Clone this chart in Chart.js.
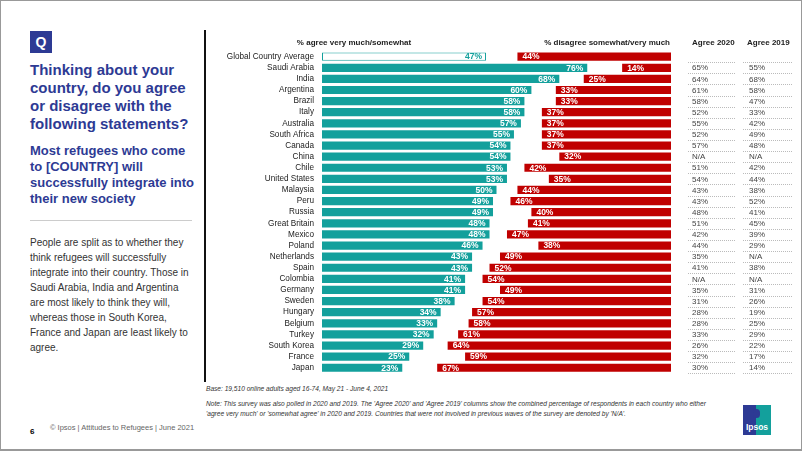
<!DOCTYPE html>
<html>
<head>
<meta charset="utf-8">
<script src="https://cdn.jsdelivr.net/npm/chart.js@4.4.1/dist/chart.umd.min.js"></script>
<style>
  html, body { margin: 0; padding: 0; background: #fff; }
  body { width: 802px; height: 451px; position: relative; overflow: hidden; font-family: "Liberation Sans", Arial, sans-serif; }
  .abs { position: absolute; white-space: nowrap; }
  #frame { left: 0; top: 0; width: 800px; height: 448px; border: 1px solid #999; border-bottom-width: 2px; }
  #qbox { left: 30px; top: 31px; width: 22px; height: 22px; background: #2d3a94; color: #fff; font-weight: bold; font-size: 14px; line-height: 22px; text-align: center; }
  #title { left: 30px; top: 61px; color: #2d3a94; font-weight: bold; font-size: 15px; line-height: 18px; }
  #subtitle { left: 30px; top: 143px; color: #2d3a94; font-weight: bold; font-size: 13px; line-height: 16px; }
  #rule { left: 30px; top: 220px; width: 162px; height: 1px; background: #ccc; }
  #body { left: 30px; top: 235px; color: #333; font-size: 10px; line-height: 15px; }
  #page { left: 30px; top: 427px; font-size: 8px; font-weight: bold; color: #000; }
  #copy { left: 50px; top: 423px; font-size: 7.5px; color: #666; }
  #vline { left: 204px; top: 30px; width: 2px; height: 352px; background: #111; }
  #base { left: 206px; top: 385px; font-size: 6.6px; font-style: italic; color: #333; }
  #note { left: 206px; top: 399px; font-size: 6.6px; line-height: 10px; font-style: italic; color: #333; }
  #logo { left: 743px; top: 405px; width: 28px; height: 30px; background: #2d3a94; overflow: hidden; }
  #logo .teal { position: absolute; left: 13px; top: -4px; width: 22px; height: 40px; background: #13a09c; border-radius: 5px 0 0 5px; }
  #logo .txt { position: absolute; left: 0; width: 28px; top: 17px; text-align: center; color: #fff; font-weight: bold; font-size: 8.5px; }
  #logo .head { position: absolute; left: 10px; top: 4px; width: 7px; height: 9px; background: #2d3a94; border-radius: 4px; }
  #c { position: absolute; left: 0; top: 0; }
</style>
</head>
<body>
<div id="frame" class="abs"></div>
<div id="qbox" class="abs">Q</div>
<div id="title" class="abs">Thinking about your<br>country, do you agree<br>or disagree with the<br>following statements?</div>
<div id="subtitle" class="abs">Most refugees who come<br>to [COUNTRY] will<br>successfully integrate into<br>their new society</div>
<div id="rule" class="abs"></div>
<div id="body" class="abs">People are split as to whether they<br>think refugees will successfully<br>integrate into their country. Those in<br>Saudi Arabia, India and Argentina<br>are most likely to think they will,<br>whereas those in South Korea,<br>France and Japan are least likely to<br>agree.</div>
<div id="page" class="abs">6</div>
<div id="copy" class="abs">© Ipsos | Attitudes to Refugees | June 2021</div>
<div id="vline" class="abs"></div>
<div id="base" class="abs">Base: 19,510 online adults aged 16-74, May 21 - June 4, 2021</div>
<div id="note" class="abs">Note: This survey was also polled in 2020 and 2019. The 'Agree 2020' and 'Agree 2019' columns show the combined percentage of respondents in each country who either<br>'agree very much' or 'somewhat agree' in 2020 and 2019. Countries that were not involved in previous waves of the survey are denoted by 'N/A'.</div>
<div id="logo" class="abs"><div class="teal"></div><div class="head"></div><div class="txt">Ipsos</div></div>
<canvas id="c" width="802" height="451"></canvas>
<script>
const countries = ["Global Country Average", "Saudi Arabia", "India", "Argentina", "Brazil", "Italy", "Australia", "South Africa", "Canada", "China", "Chile", "United States", "Malaysia", "Peru", "Russia", "Great Britain", "Mexico", "Poland", "Netherlands", "Spain", "Colombia", "Germany", "Sweden", "Hungary", "Belgium", "Turkey", "South Korea", "France", "Japan"];
const agree = [47, 76, 68, 60, 58, 58, 57, 55, 54, 54, 53, 53, 50, 49, 49, 48, 48, 46, 43, 43, 41, 41, 38, 34, 33, 32, 29, 25, 23];
const disagree = [44, 14, 25, 33, 33, 37, 37, 37, 37, 32, 42, 35, 44, 46, 40, 41, 47, 38, 49, 52, 54, 49, 54, 57, 58, 61, 64, 59, 67];
// '' = no value shown, null = not surveyed (N/A)
const agree2020 = ["", 65, 64, 61, 58, 52, 55, 52, 57, null, 51, 54, 43, 43, 48, 51, 42, 44, 35, 41, null, 35, 31, 28, 28, 33, 26, 32, 30];
const agree2019 = ["", 55, 68, 58, 47, 33, 42, 49, 48, null, 42, 44, 38, 52, 41, 45, 39, 29, null, 38, null, 31, 26, 19, 25, 29, 22, 17, 14];

const TEAL = "#13a09c";
const RED = "#c00000";
const FONT = "'Liberation Sans', Arial, sans-serif";

const fmt = v => v === "" ? "" : (v === null ? "N/A" : v + "%");

const extrasPlugin = {
    id: "extras",
    afterDatasetsDraw(chart) {
        const ctx = chart.ctx;
        const x = chart.scales.x;
        const y = chart.scales.y;
        ctx.save();
        ctx.textBaseline = "middle";

        // bar value labels
        ctx.font = "bold 8.5px " + FONT;
        agree.forEach((a, i) => {
            ctx.fillStyle = i === 0 ? TEAL : "#fff";
            ctx.textAlign = "right";
            ctx.fillText(a + "%", x.getPixelForValue(a) - 4, y.getPixelForValue(i) + 0.5);
        });
        disagree.forEach((d, i) => {
            ctx.fillStyle = "#fff";
            ctx.textAlign = "left";
            ctx.fillText(d + "%", x.getPixelForValue(100 - d) + 5, y.getPixelForValue(i) + 0.5);
        });

        // headers
        ctx.fillStyle = "#222";
        ctx.font = "bold 8px " + FONT;
        ctx.textAlign = "center";
        ctx.fillText("% agree very much/somewhat", 354, 43);
        ctx.textAlign = "right";
        ctx.fillText("% disagree somewhat/very much", 670, 43);
        ctx.textAlign = "left";
        ctx.fillText("Agree 2020", 692, 43);
        ctx.fillText("Agree 2019", 747, 43);

        // previous waves columns
        const half = (y.getPixelForValue(1) - y.getPixelForValue(0)) / 2;
        ctx.font = "8px " + FONT;
        countries.forEach((c, i) => {
            const cy = y.getPixelForValue(i);
            ctx.fillStyle = "#444";
            ctx.fillText(fmt(agree2020[i]), 692, cy + 0.5);
            ctx.fillText(fmt(agree2019[i]), 749, cy + 0.5);
            ctx.strokeStyle = "#bbb";
            ctx.lineWidth = 1;
            ctx.setLineDash([1, 1]);
            const ly = Math.round(cy + half) + 0.5;
            ctx.beginPath();
            ctx.moveTo(688, ly); ctx.lineTo(736, ly);
            ctx.moveTo(743, ly); ctx.lineTo(792, ly);
            ctx.stroke();
        });
        ctx.restore();
    }
};

new Chart(document.getElementById("c"), {
    type: "bar",
    data: {
        labels: countries,
        datasets: [
            {
                label: "% agree very much/somewhat",
                data: agree.map(a => [0, a]),
                backgroundColor: agree.map((a, i) => i === 0 ? "#fff" : TEAL),
                borderColor: TEAL,
                borderWidth: agree.map((a, i) => i === 0 ? 1 : 0),
                borderSkipped: false,
                grouped: false,
                barPercentage: 0.74,
                categoryPercentage: 1
            },
            {
                label: "% disagree somewhat/very much",
                data: disagree.map(d => [100 - d, 100]),
                backgroundColor: RED,
                borderWidth: 0,
                grouped: false,
                barPercentage: 0.74,
                categoryPercentage: 1
            }
        ]
    },
    options: {
        indexAxis: "y",
        responsive: false,
        animation: false,
        devicePixelRatio: 1,
        layout: { padding: { left: 205, right: 131, top: 51.1, bottom: 77.7 } },
        plugins: { legend: { display: false }, tooltip: { enabled: false } },
        scales: {
            x: { min: 0, max: 100, display: false },
            y: {
                offset: true,
                grid: { display: false, drawTicks: false },
                border: { display: false },
                ticks: { autoSkip: false, padding: 8, color: "#222", font: { family: FONT, size: 8.2 } },
                afterFit: scale => { scale.width = 117; }
            }
        }
    },
    plugins: [extrasPlugin]
});
</script>
</body>
</html>
